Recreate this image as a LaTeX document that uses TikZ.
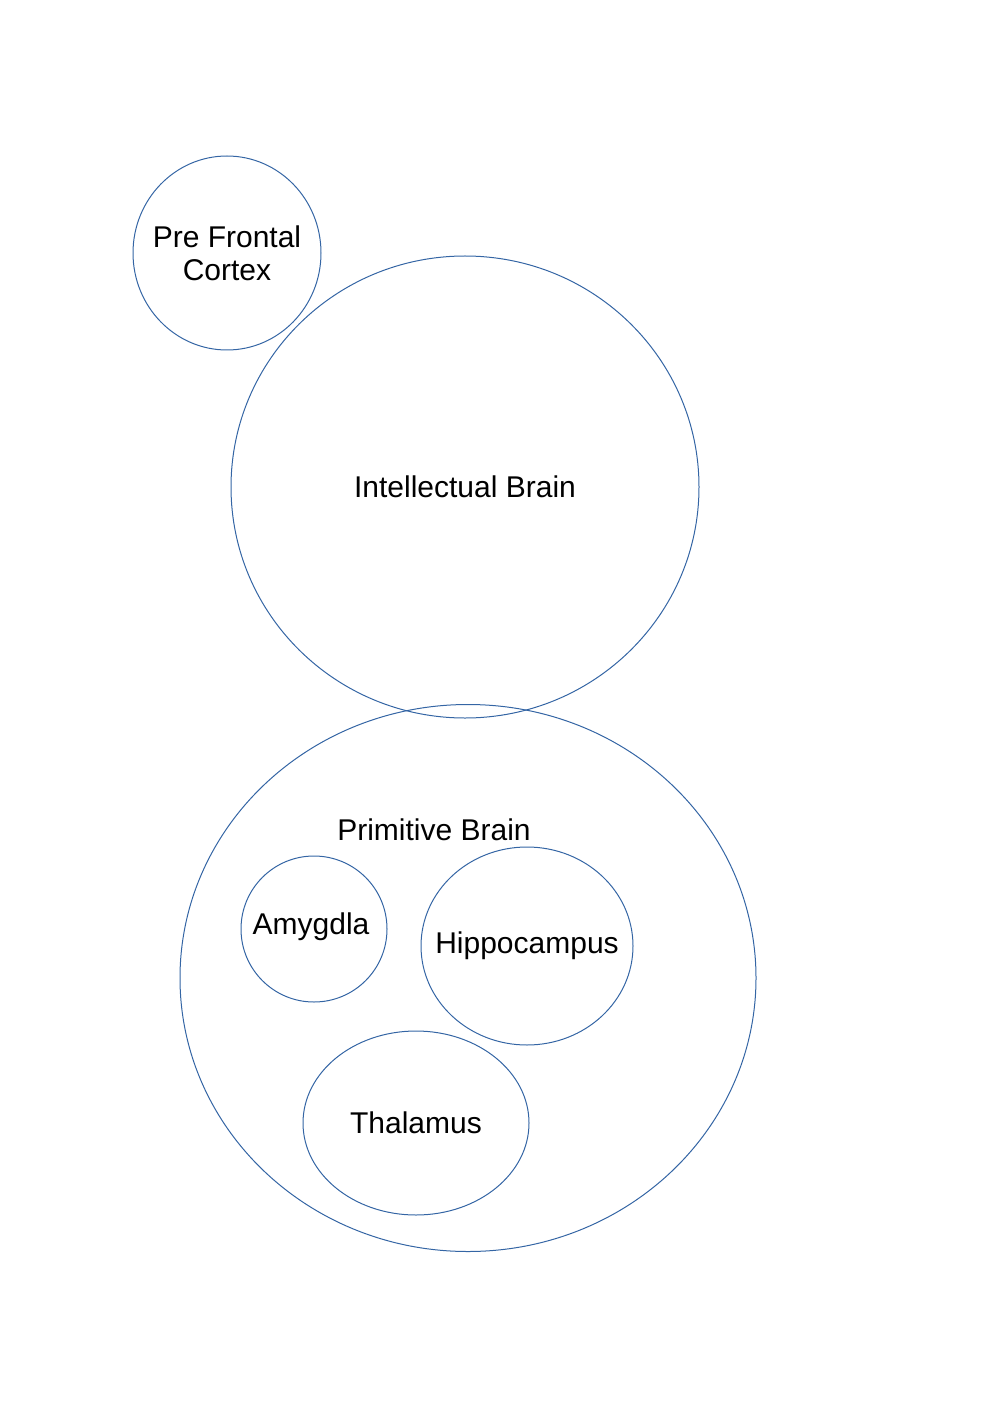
\documentclass[tikz,border=0pt]{standalone}
\usepackage{fontspec}
\setmainfont{Liberation Sans}
\usetikzlibrary{shapes.geometric}
\definecolor{rim}{HTML}{3465A4}
\tikzset{
    region/.style={ellipse, draw=rim, line width=0.6pt, inner sep=0pt},
    caption/.style={align=center, font=\fontsize{18}{20}\selectfont}
}
\begin{document}
\begin{tikzpicture}[x=0.6pt, y=-0.6pt]
    \useasboundingbox (0,0) rectangle (992,1403);
    % upper part
    \node[region, minimum width=188*0.6pt, minimum height=194*0.6pt] (pfc) at (227,253) {};
    \node[caption] (pfctext) at (pfc) {Pre Frontal\\Cortex};
    \node[region, minimum width=468*0.6pt, minimum height=462*0.6pt] (intel) at (465,487) {};
    \node[caption] (inteltext) at (intel) {Intellectual Brain};
    % lower part
    \node[region, minimum width=576*0.6pt, minimum height=547*0.6pt] (prim) at (468,978) {};
    \node[caption] (primtext) at (434,830) {Primitive Brain};
    \node[region, minimum width=146*0.6pt, minimum height=146*0.6pt] (amyg) at (314,929) {};
    \node[caption] (amygtext) at (311,927) {Amygdla};
    \node[region, minimum width=212*0.6pt, minimum height=198*0.6pt] (hippo) at (527,946) {};
    \node[caption] (hippotext) at (hippo) {Hippocampus};
    \node[region, minimum width=226*0.6pt, minimum height=184*0.6pt] (thal) at (416,1123) {};
    \node[caption] (thaltext) at (thal) {Thalamus};
\end{tikzpicture}
\end{document}
